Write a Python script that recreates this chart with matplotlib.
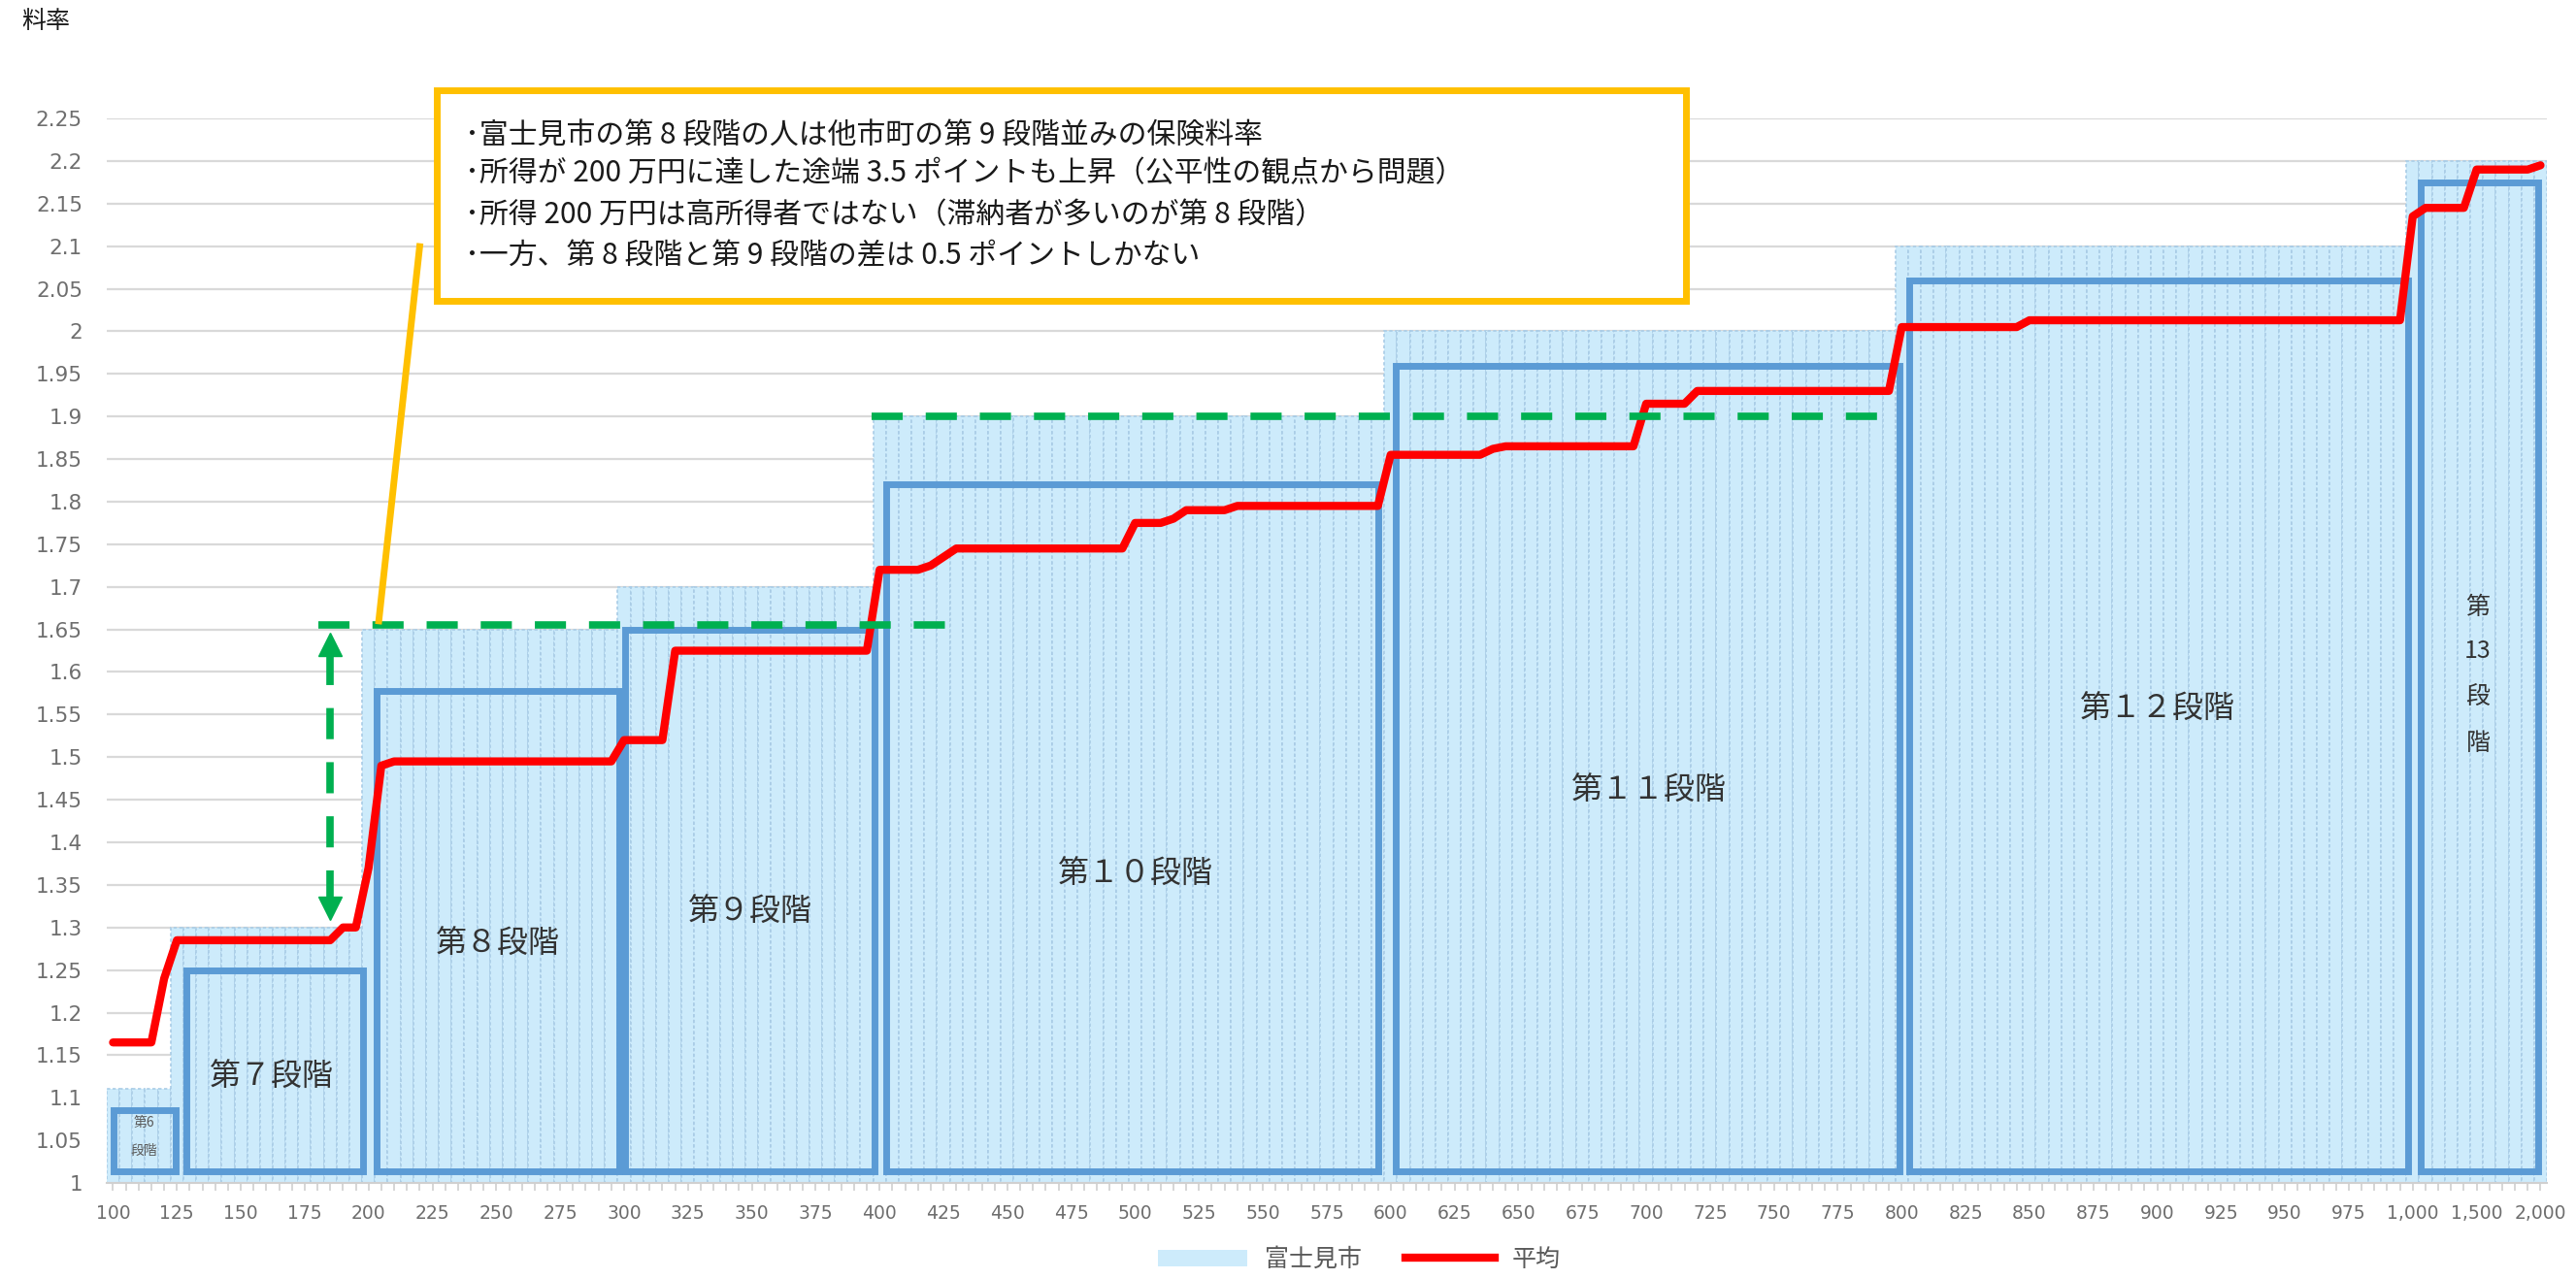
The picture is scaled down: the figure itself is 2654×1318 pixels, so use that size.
import matplotlib
matplotlib.use('Agg')
import matplotlib.pyplot as plt
from matplotlib.patches import Rectangle, Patch
from matplotlib.lines import Line2D
import numpy as np

plt.rcParams['font.family'] = ['Noto Sans CJK JP', 'DejaVu Sans']

# 所得区分（万円）
categories = list(range(100, 1001, 5)) + [1100, 1200, 1300, 1400, 1500, 1600, 1700, 1800, 1900, 2000]

# 富士見市の料率
fujimi = ([1.11] * 5 + [1.30] * 15 + [1.65] * 20 + [1.70] * 20 +
          [1.90] * 40 + [2.00] * 40 + [2.10] * 40 + [2.20] * 11)

# 他市町の平均
heikin = ([1.165] * 4 + [1.24] + [1.285] * 13 + [1.30] * 2 + [1.37, 1.49] +
          [1.495] * 18 + [1.52] * 4 + [1.625] * 16 + [1.72] * 4 + [1.725, 1.735] +
          [1.745] * 14 + [1.775] * 3 + [1.78] + [1.79] * 4 + [1.795] * 12 +
          [1.855] * 8 + [1.862] + [1.865] * 11 + [1.915] * 4 + [1.93] * 16 +
          [2.005] * 10 + [2.013] * 30 + [2.135] + [2.145] * 4 + [2.19] * 5 + [2.195])

stage_names = ['第７段階', '第８段階', '第９段階', '第１０段階', '第１１段階', '第１２段階']

note_lines = [
    '･富士見市の第 8 段階の人は他市町の第 9 段階並みの保険料率',
    '･所得が 200 万円に達した途端 3.5 ポイントも上昇（公平性の観点から問題）',
    '･所得 200 万円は高所得者ではない（滞納者が多いのが第 8 段階）',
    '･一方、第 8 段階と第 9 段階の差は 0.5 ポイントしかない',
]

x = np.arange(len(categories))

fig = plt.figure(figsize=(26.54, 13.18), dpi=100)
ax = fig.add_axes([0.0414, 0.0751, 0.9473, 0.8323])

ax.bar(x, fujimi, width=1.0, color='#CDEBFB', edgecolor='#A9CCE6',
       linewidth=1.2, linestyle=(0, (2, 1.5)), zorder=2)
ax.plot(x, heikin, color='#FF0000', lw=6, solid_capstyle='round',
        solid_joinstyle='round', zorder=5)

ax.set_xlim(-0.5, len(categories) - 0.5)
ax.set_ylim(1, 2.25)
yt = np.round(np.arange(1, 2.2501, 0.05), 2)
ax.set_yticks(yt)
ax.set_yticklabels([f'{v:g}' for v in yt], fontfamily='DejaVu Sans')
ax.set_xticks(x)
ax.set_xticklabels([f'{c:,}' if i % 5 == 0 else '' for i, c in enumerate(categories)],
                   fontfamily='DejaVu Sans')
ax.tick_params(axis='y', length=0, pad=18, labelsize=15.5, labelcolor='#6E6E6E')
ax.tick_params(axis='x', length=6, width=1.2, color='#D0D0D0', pad=10,
               labelsize=13.5, labelcolor='#6E6E6E')
ax.grid(axis='y', color='#D9D9D9', lw=1.6, zorder=0)
ax.set_axisbelow(True)
for s in ['top', 'right', 'left']:
    ax.spines[s].set_visible(False)
ax.spines['bottom'].set_color('#D0D0D0')
ax.spines['bottom'].set_linewidth(1.5)

# 段階の枠
boxes = [(0.05, 4.9, 1.086), (5.75, 19.6, 1.25), (20.6, 39.6, 1.578),
         (40.1, 59.6, 1.65), (60.5, 99.0, 1.82), (100.4, 139.8, 1.96),
         (140.6, 179.6, 2.06), (180.6, 189.8, 2.175)]
for x0, x1, top in boxes:
    ax.add_patch(Rectangle((x0, 1.014), x1 - x0, top - 1.014, fill=False,
                           edgecolor='#5B9BD5', lw=5, zorder=4))

ax.text(2.4, 1.071, '第6', fontsize=10, color='#595959', ha='center', va='center', zorder=6)
ax.text(2.4, 1.038, '段階', fontsize=10, color='#595959', ha='center', va='center', zorder=6)
label_pos = [(12.4, 1.124), (30.1, 1.28), (49.9, 1.318), (80.0, 1.363),
             (120.2, 1.46), (160.0, 1.556)]
for name, (lx, ly) in zip(stage_names, label_pos):
    ax.text(lx, ly, name, fontsize=23, color='#333333', ha='center', va='center', zorder=6)
for t, ly in zip(['第', '13', '段', '階'], [1.676, 1.624, 1.57, 1.516]):
    ax.text(185.1, ly, t, fontsize=18, color='#333333', ha='center', va='center', zorder=6)

# 緑の破線と矢印
green = '#00B050'
ax.plot([16.07, 65.2], [1.655, 1.655], color=green, lw=5.5, dashes=(4.2, 3.1), zorder=6)
ax.plot([59.4, 138.2], [1.9, 1.9], color=green, lw=5.5, dashes=(4.2, 3.1), zorder=6)
ax.plot([17.0, 17.0], [1.33, 1.62], color=green, lw=5.5, dashes=(4.2, 3.1), zorder=6)
ax.plot([17.0], [1.632], marker='^', ms=17, color=green, zorder=6)
ax.plot([17.0], [1.322], marker='v', ms=17, color=green, zorder=6)

# 吹き出し
ax.plot([24.0, 20.8], [2.0995, 1.66], color='#FFC000', lw=5, clip_on=False, zorder=7)
fig.patches.append(Rectangle((0.1696, 0.7648), 0.485, 0.1646, transform=fig.transFigure,
                             facecolor='white', edgecolor='#FFC000', lw=5, zorder=10))
for line, ty in zip(note_lines, [0.8945, 0.8642, 0.8316, 0.7997]):
    fig.text(0.1805, ty, line, fontsize=21.5, color='#1A1A1A', ha='left', va='center', zorder=11)

fig.text(0.0083, 0.983, '料率', fontsize=18, color='#1A1A1A', ha='left', va='center')

handles = [Patch(facecolor='#CDEBFB', edgecolor='none'),
           Line2D([0], [0], color='#FF0000', lw=6)]
fig.legend(handles, ['富士見市', '平均'], loc='center', bbox_to_anchor=(0.5276, 0.0152),
           ncol=2, frameon=False, fontsize=18, labelcolor='#595959',
           handlelength=3.7, handleheight=0.68, handletextpad=0.7, columnspacing=1.8)

fig.savefig('out.png', dpi=100)
